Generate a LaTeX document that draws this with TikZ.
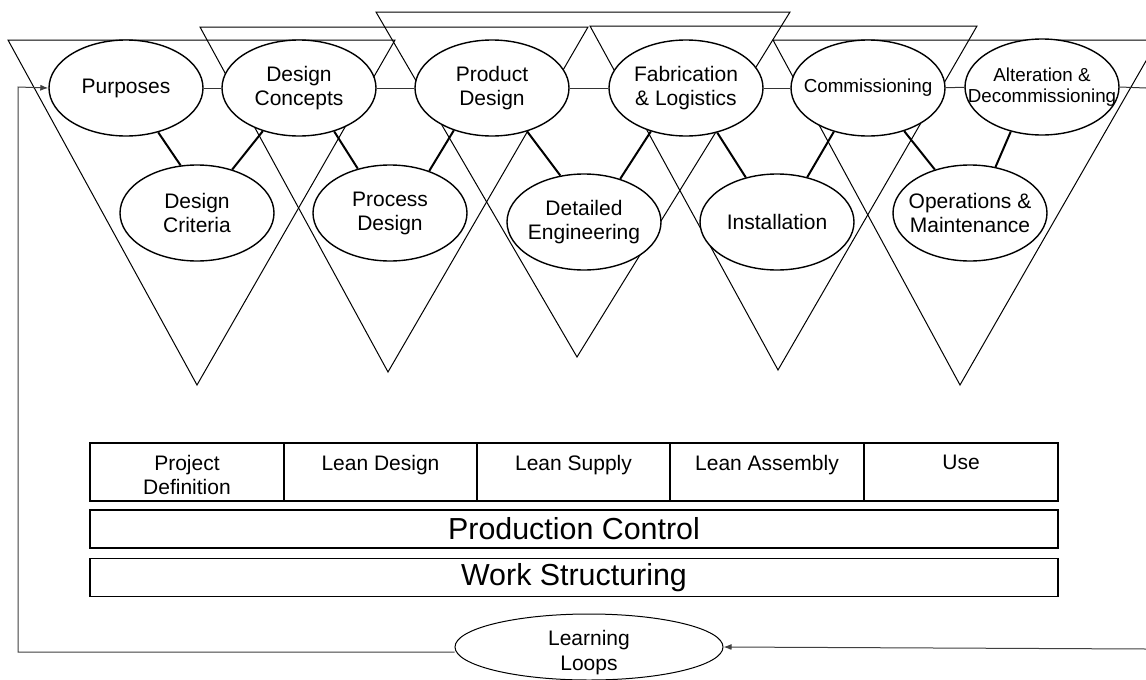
\documentclass[tikz,border=0pt]{standalone}
\usepackage{fontspec}
\setmainfont{Liberation Sans}
\usetikzlibrary{shapes.geometric,arrows.meta}
\begin{document}
\begin{tikzpicture}[x=0.5pt,y=-0.5pt,
  tri/.style={draw=black, line width=0.5pt, line join=miter},
  ell/.style={ellipse, draw=black, line width=0.7pt, fill=white, minimum width=77pt, minimum height=48pt, inner sep=0pt},
  txt/.style={align=center, inner sep=0pt, font=\fontsize{10.5}{12}\selectfont},
  stxt/.style={align=center, inner sep=0pt, font=\fontsize{9.4}{10.5}\selectfont},
  link/.style={draw=black, line width=1pt},
  hline/.style={draw=black!80, line width=0.5pt},
  cell/.style={draw=black, line width=0.6pt, minimum width=97pt, minimum height=29pt, inner sep=0pt},
  band/.style={draw=black, line width=0.8pt, minimum width=484pt, minimum height=19pt, inner sep=0pt, font=\fontsize{15.2}{17}\selectfont},
  fb/.style={draw=black!75, line width=0.5pt},
  tip/.style={-{Latex[length=4pt,width=3pt]}}
]
\useasboundingbox (0,0) rectangle (1146,680);
\clip (0,0) rectangle (1146,680);
\fill[white] (0,0) rectangle (1146,680);

% triangles
\draw[tri] (8,40) -- (197,385) -- (395,40) -- cycle;
\draw[tri] (200,27) -- (388,372) -- (588,27) -- cycle;
\draw[tri] (376,12) -- (577,357) -- (790,12) -- cycle;
\draw[tri] (590,26) -- (778,370) -- (977,26) -- cycle;
\draw[tri] (773,40) -- (960,385) -- (1158,40) -- cycle;

% top row
\node[ell] (purp) at (126,88) {};
\node[ell] (dcon) at (299,88) {};
\node[ell] (pdes) at (492,88) {};
\node[ell] (fabl) at (686,88) {};
\node[ell] (comm) at (868,88) {};
\node[ell] (altd) at (1042,87) {};
% bottom row
\node[ell] (dcri) at (197,213) {};
\node[ell] (prde) at (390,213) {};
\node[ell] (deng) at (584,222) {};
\node[ell] (inst) at (777,222) {};
\node[ell] (opma) at (970,213) {};

\node[txt] (purpT) at (purp) {Purposes};
\node[txt] (dconT) at (dcon) {Design\\Concepts};
\node[txt] (pdesT) at (pdes) {Product\\Design};
\node[txt] (fablT) at (fabl) {Fabrication\\\& Logistics};
\node[stxt] (commT) at (comm) {Commissioning};
\node[stxt] (altdT) at (altd) {Alteration \&\\Decommissioning};
\node[txt] (dcriT) at (dcri) {Design\\Criteria};
\node[txt] (prdeT) at (prde) {Process\\Design};
\node[txt] (dengT) at (deng) {Detailed\\Engineering};
\node[txt] (instT) at (inst) {Installation};
\node[txt] (opmaT) at (opma) {Operations \&\\Maintenance};

% horizontal chain
\coordinate (rout) at (1146,88);
\draw[hline] (purp) -- (dcon);
\draw[hline] (dcon) -- (pdes);
\draw[hline] (pdes) -- (fabl);
\draw[hline] (fabl) -- (comm);
\draw[hline] (comm) -- (altd);
\draw[hline] (altd.east) -- (rout);

% links
\draw[link] (purp.-54.6) -- (dcri.109.9);
\draw[link] (dcon.-130.7) -- (dcri.51.3);
\draw[link] (dcon.-51.7) -- (prde.126.3);
\draw[link] (pdes.-132.2) -- (prde.47.9);
\draw[link] (pdes.-51.3) -- (deng.117);
\draw[link] (fabl.-129.4) -- (deng.50.7);
\draw[link] (fabl.-55.4) -- (inst.125.4);
\draw[link] (comm.-128.5) -- (inst.56.3);
\draw[link] (comm.-50.9) -- (opma.129.4);
\draw[link] (altd.-125.4) -- (opma.61.5);

% table
\node[cell] (c1) at (187,472) {};
\node[cell] (c2) at (380.5,472) {};
\node[cell] (c3) at (573.5,472) {};
\node[cell] (c4) at (767,472) {};
\node[cell] (c5) at (961,472) {};
\node[txt, anchor=north] (c1T) at (187,455) {Project\\Definition};
\node[txt, anchor=north] (c2T) at (380.5,455) {Lean Design};
\node[txt, anchor=north] (c3T) at (573.5,455) {Lean Supply};
\node[txt, anchor=north] (c4T) at (767,455) {Lean Assembly};
\node[txt, anchor=north] (c5T) at (961,455) {Use};

\node[band] (pc) at (574,529) {Production Control};
\node[band] (ws) at (574,577.5) {Work Structuring};

% learning loops
\node[ell, line width=0.5pt, minimum width=134pt, minimum height=33pt] (ll) at (589,647) {};
\node[txt, font=\fontsize{10.5}{12.5}\selectfont] (llT) at (589,653) {Learning\\Loops};

\coordinate (c1b) at (18,652);
\coordinate (c2b) at (18,87);
\coordinate (rin) at (1146,649);
\draw[fb, tip] (ll.west |- c1b) -- (c1b) -- (c2b) -- (purp.west);
\draw[fb, tip] (rin) -- (ll.east);
\end{tikzpicture}
\end{document}
